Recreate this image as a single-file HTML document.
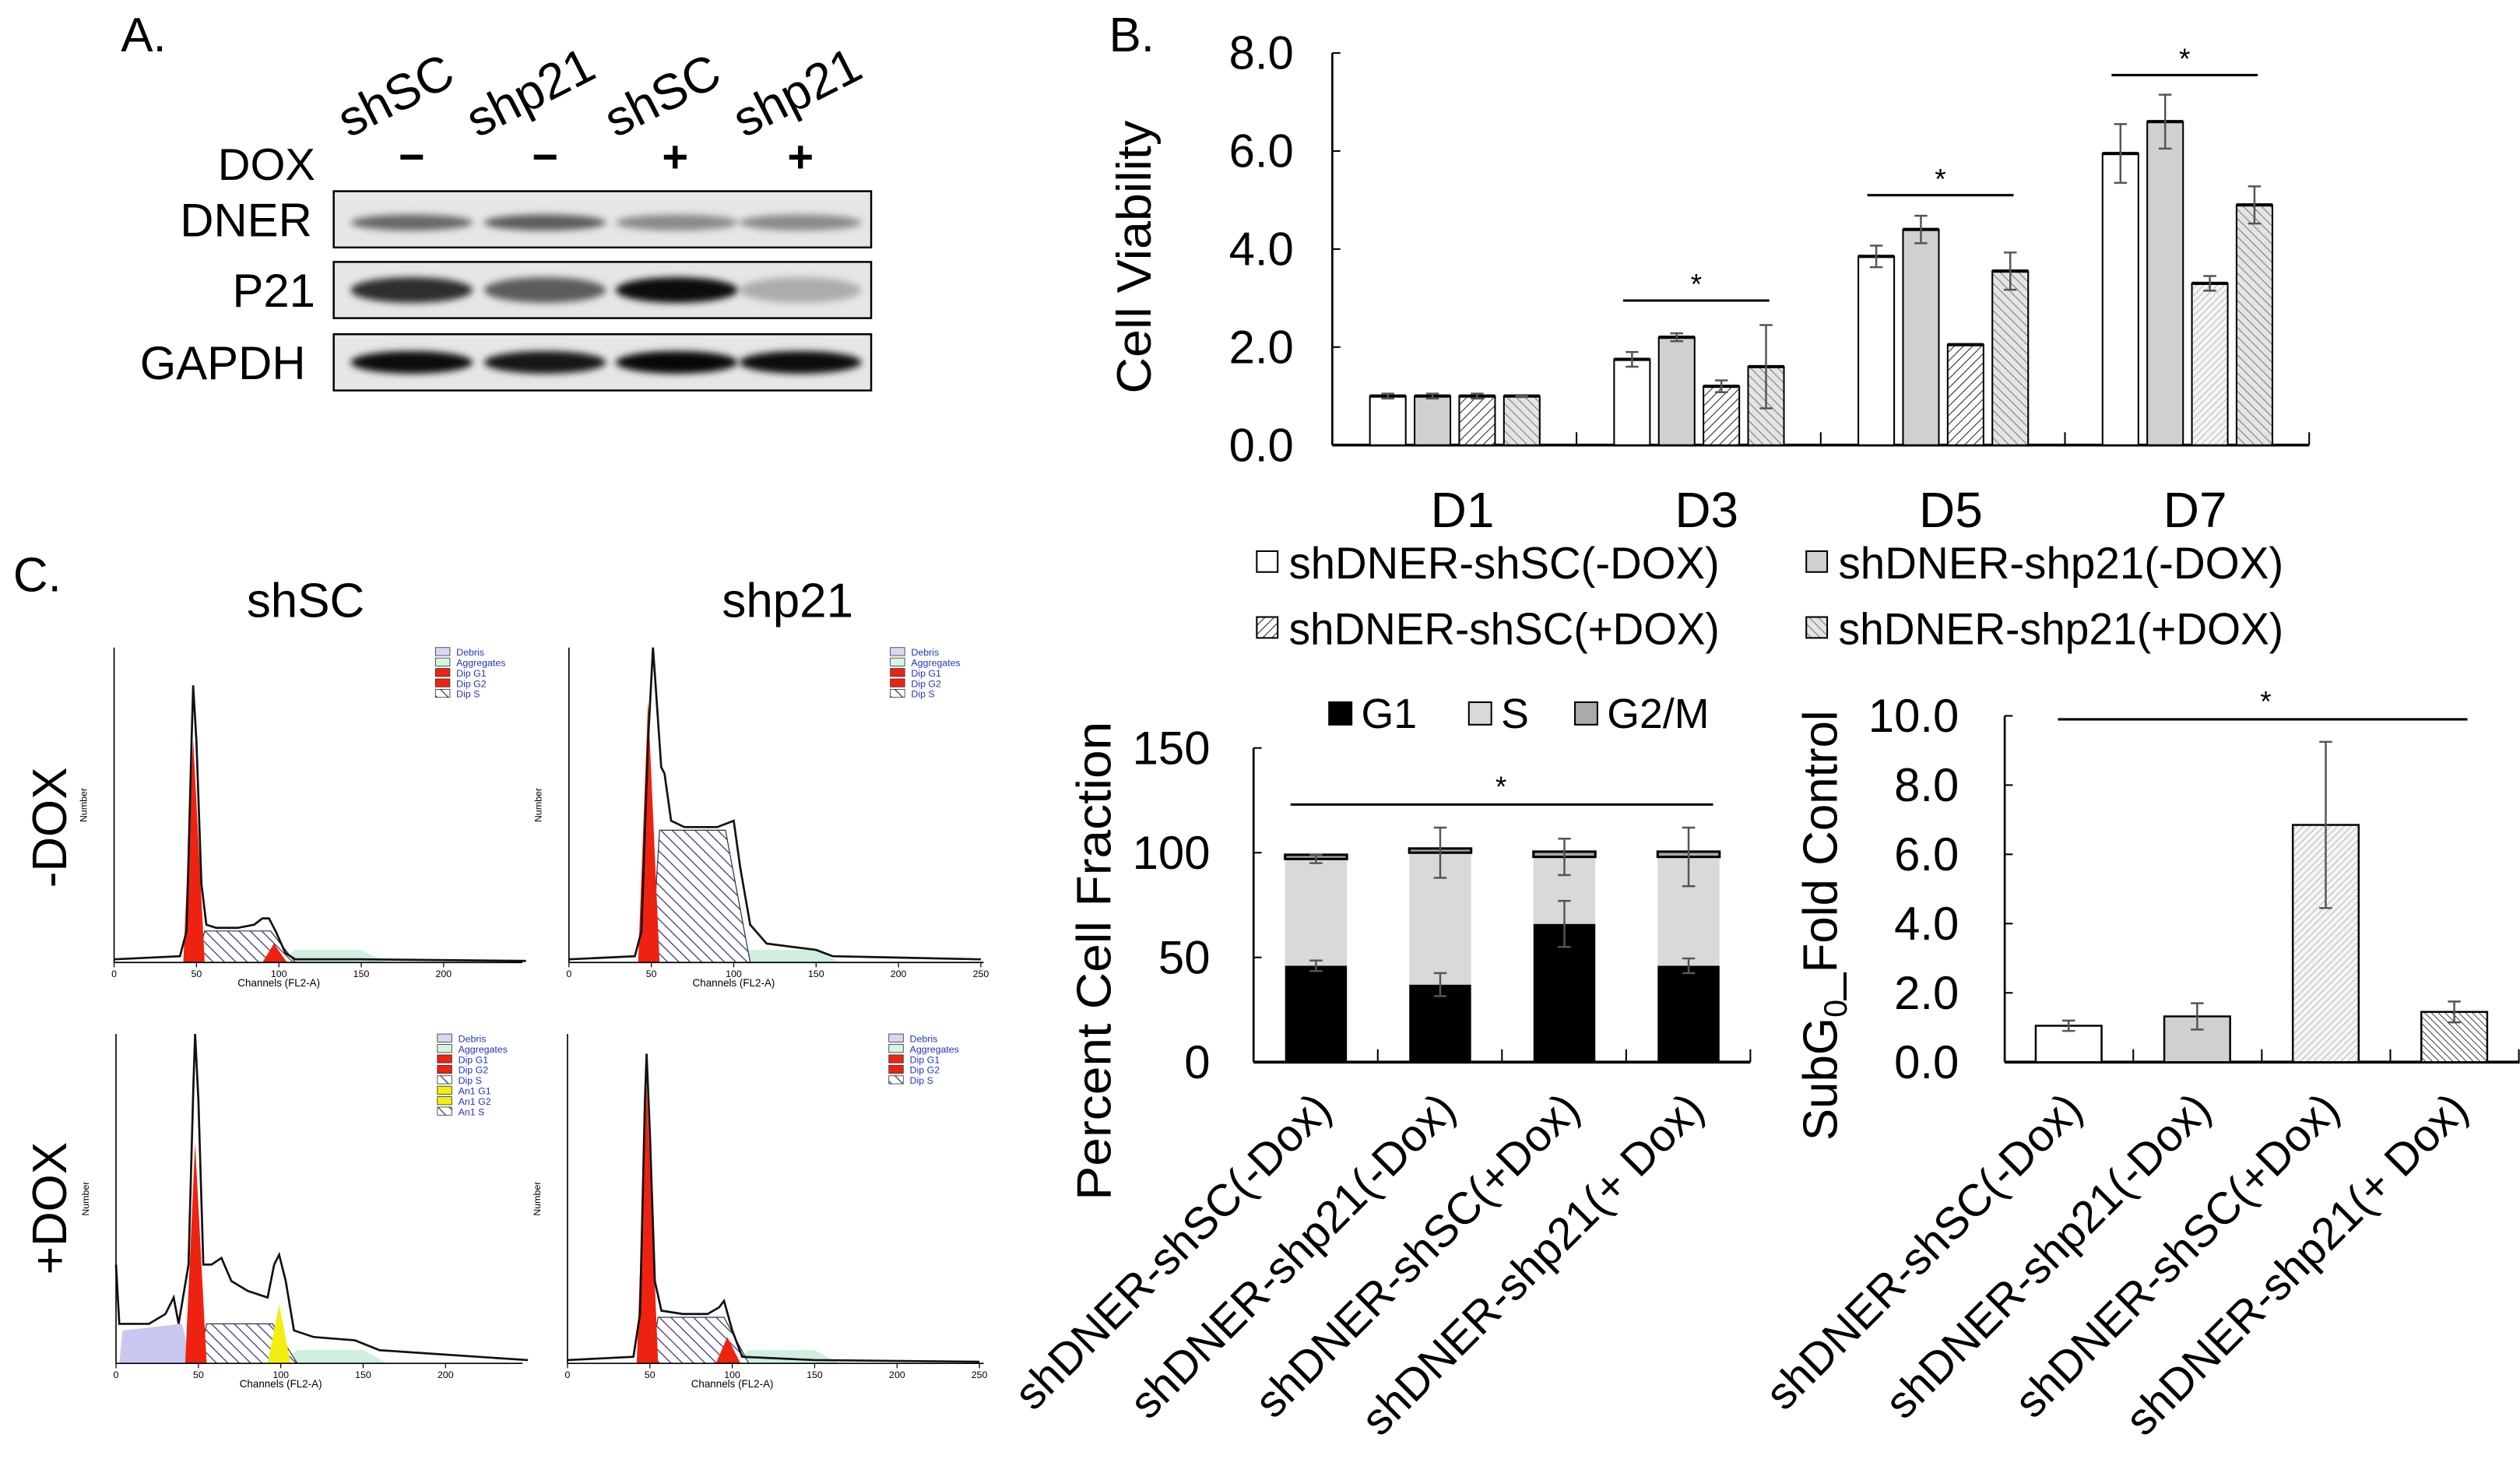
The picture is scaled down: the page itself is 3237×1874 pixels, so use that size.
<!DOCTYPE html>
<html><head><meta charset="utf-8"><style>
html,body{margin:0;padding:0;background:#fff;}
svg{display:block;font-family:"Liberation Sans",Arial,sans-serif;}
</style></head><body>
<svg id="fig" width="3237" height="1874" viewBox="0 0 1568 908" xmlns="http://www.w3.org/2000/svg">
<defs>
<pattern id="hatchA" width="4" height="4" patternUnits="userSpaceOnUse" patternTransform="rotate(45)"><rect width="4" height="4" fill="#fff"/><line x1="0" y1="0" x2="0" y2="4" stroke="#222" stroke-width="1"/></pattern>
<pattern id="hatchB" width="4" height="4" patternUnits="userSpaceOnUse" patternTransform="rotate(-45)"><rect width="4" height="4" fill="#e4e4e4"/><line x1="0" y1="0" x2="0" y2="4" stroke="#888" stroke-width="1.2"/></pattern>
<pattern id="hatchC" width="3" height="3" patternUnits="userSpaceOnUse" patternTransform="rotate(45)"><rect width="3" height="3" fill="#f4f4f4"/><line x1="0" y1="0" x2="0" y2="3" stroke="#aaa" stroke-width="0.8"/></pattern>
<pattern id="hatchD" width="3" height="3" patternUnits="userSpaceOnUse" patternTransform="rotate(-45)"><rect width="3" height="3" fill="#fff"/><line x1="0" y1="0" x2="0" y2="3" stroke="#333" stroke-width="0.9"/></pattern>
<pattern id="hatchS" width="5" height="5" patternUnits="userSpaceOnUse" patternTransform="rotate(-45)"><rect width="5" height="5" fill="#fff"/><line x1="0" y1="0" x2="0" y2="5" stroke="#33337a" stroke-width="1.2"/></pattern>
<filter id="blur" x="-20%" y="-100%" width="140%" height="300%"><feGaussianBlur stdDeviation="2.2"/></filter>
</defs>
<g id="root"></g>
</svg>
<script>
// ---------- DATA ----------
const dayLabels = ["D1","D3","D5","D7"];
const viabSeriesNames = ["shDNER-shSC(-DOX)","shDNER-shp21(-DOX)","shDNER-shSC(+DOX)","shDNER-shp21(+DOX)"];
const viabS1 = [1.0,1.75,3.85,5.95];
const viabS2 = [1.0,2.2,4.4,6.6];
const viabS3 = [1.0,1.2,2.05,3.3];
const viabS4 = [1.0,1.6,3.55,4.9];
const viabE1 = [0.05,0.15,0.22,0.6];
const viabE2 = [0.05,0.08,0.28,0.55];
const viabE3 = [0.05,0.12,0.0,0.15];
const viabE4 = [0.02,0.85,0.38,0.38];
const viabTicks = ["0.0","2.0","4.0","6.0","8.0"];
const viabSig = [2.95,5.1,7.55]; // D3, D5, D7
const cycleCats = ["shDNER-shSC(-Dox)","shDNER-shp21(-Dox)","shDNER-shSC(+Dox)","shDNER-shp21(+ Dox)"];
const cycleG1 = [46,37,66,46];
const cycleS = [51,63,32,52];
const cycleG2 = [2,2,2.5,2.5];
const cycleG1Err = [2.5,5.5,11,3.5];
const cycleSErr = [2,12,8.7,14];
const cycleTicks = ["0","50","100","150"];
const cycleSigLevel = 123;
const subCats = ["shDNER-shSC(-Dox)","shDNER-shp21(-Dox)","shDNER-shSC(+Dox)","shDNER-shp21(+ Dox)"];
const subVals = [1.05,1.32,6.85,1.45];
const subErr = [0.15,0.38,2.4,0.3];
const subTicks = ["0.0","2.0","4.0","6.0","8.0","10.0"];
const subSigLevel = 9.9;
// histogram outlines [channel, fraction of height]
const histTL = [[0,0.01],[40,0.02],[44,0.1],[47,0.7],[48,0.88],[50,0.7],[53,0.25],[56,0.12],[62,0.11],[75,0.11],[85,0.12],[90,0.14],[94,0.14],[98,0.1],[104,0.03],[110,0.01],[150,0.01],[250,0.005]];
const histTR = [[0,0.01],[40,0.02],[44,0.1],[48,0.7],[51,1.0],[53,0.85],[56,0.62],[58,0.6],[62,0.45],[70,0.43],[90,0.43],[100,0.45],[104,0.3],[110,0.12],[120,0.06],[150,0.04],[160,0.02],[250,0.01]];
const histBL = [[0,0.3],[2,0.12],[20,0.12],[30,0.15],[35,0.2],[38,0.12],[44,0.3],[47,0.85],[48,1.0],[50,0.8],[53,0.3],[58,0.3],[64,0.32],[70,0.25],[80,0.22],[92,0.2],[96,0.3],[99,0.33],[103,0.25],[108,0.1],[120,0.08],[145,0.07],[160,0.04],[250,0.01]];
const histBR = [[0,0.01],[40,0.02],[44,0.15],[47,0.8],[48,0.94],[50,0.7],[53,0.25],[57,0.16],[70,0.15],[85,0.15],[92,0.17],[95,0.19],[100,0.1],[106,0.02],[150,0.01],[250,0.005]];
const histG1 = [0.71,0.83,0.67,0.85];
const histSLevel = [0.1,0.42,0.12,0.14];
const histG2 = [0.06,0,0,0.08];

const NS="http://www.w3.org/2000/svg";
const root=document.getElementById('root');
function mk(tag,parent){const e=document.createElementNS(NS,tag);(parent||root).appendChild(e);return e;}
function set(e,o){for(const k in o)e.setAttribute(k,o[k]);return e;}
function txt(s,x,y,size,anchor,parent){const t=mk('text',parent);set(t,{x:x,y:y,'font-size':size,'text-anchor':anchor||'start',fill:'#000'});t.textContent=s;return t;}

// ---------- PANEL A ----------
let t=txt("A.",75,32,30);


const laneLabels=["shSC","shp21","shSC","shp21"];
const laneX=[217,297,383,463];
laneLabels.forEach((s,i)=>{const e=txt(s,laneX[i],86,31);e.setAttribute('transform',`rotate(-27 ${laneX[i]} 86)`);

});
t=txt("DOX",196,112,28,'end');


const doxSigns=["−","−","+","+"];const doxX=[256,339,420,498];
doxSigns.forEach((s,i)=>{const e=txt(s,doxX[i],107,28,'middle');e.setAttribute('font-weight','bold');

});
const blots=[{n:"DNER",y:119,lx:194,str:[0.55,0.6,0.4,0.4],h:5},{n:"P21",y:163,lx:196,str:[0.8,0.6,0.95,0.25],h:8},{n:"GAPDH",y:208,lx:190,str:[0.95,0.9,0.97,0.95],h:7}];
const laneC=[256,339,421,498];
blots.forEach(b=>{
  const g=mk('g');
  set(mk('rect',g),{x:207.5,y:b.y,width:334.5,height:35,fill:'#e6e6e6'});
  b.str.forEach((s,i)=>{const e=mk('ellipse',g);set(e,{cx:laneC[i],cy:b.y+17.5+(b.n==="DNER"?2:0),rx:38,ry:b.h,fill:`rgba(0,0,0,${s})`,filter:'url(#blur)'});
  
  });
  set(mk('rect',g),{x:207.5,y:b.y,width:334.5,height:35,fill:'none',stroke:'#000','stroke-width':1.2});
  const l=txt(b.n,b.lx,b.y+28,29,'end');
  
  
});

// ---------- PANEL B ----------
const bX0=829,bGW=152,bY0=277,bK=30.5;
const yB=v=>bY0-v*bK;
const xB=(g,s)=>bX0+g*bGW+23.4+s*27.8;
t=txt("B.",690,32,30);


set(mk('line'),{x1:bX0,y1:yB(8),x2:bX0,y2:bY0,stroke:'#000','stroke-width':1.3});
set(mk('line'),{x1:bX0,y1:bY0,x2:bX0+4*bGW,y2:bY0,stroke:'#000','stroke-width':1.8});
viabTicks.forEach((s,i)=>{const v=parseFloat(s);set(mk('line'),{x1:bX0,y1:yB(v),x2:bX0+5,y2:yB(v),stroke:'#000'});
const e=txt(s,805,yB(v)+10,29,'end');

});
for(let g=1;g<=4;g++)set(mk('line'),{x1:bX0+g*bGW,y1:bY0,x2:bX0+g*bGW,y2:bY0-8,stroke:'#000'});
t=txt("Cell Viability",0,0,30,'middle');
set(t,{transform:'translate(716,160) rotate(-90)',textLength:170,lengthAdjust:'spacingAndGlyphs'});


const vS=[viabS1,viabS2,viabS3,viabS4],vE=[viabE1,viabE2,viabE3,viabE4];
const vFill=['#fff','#d0d0d0','url(#hatchA)','url(#hatchB)'];
dayLabels.forEach((d,g)=>{
  for(let s=0;s<4;s++){
    const v=vS[s][g],x=xB(g,s);
    const r=mk('rect');set(r,{x:x,y:yB(v),width:22.3,height:v*bK,fill:(g===3&&s===2)?'url(#hatchC)':vFill[s],stroke:'#000','stroke-width':1});
    
    
    set(mk('line'),{x1:x,y1:yB(v),x2:x+22.3,y2:yB(v),stroke:'#000','stroke-width':2});
    const e=vE[s][g];if(e>0){const cx=x+11.15;
      set(mk('path'),{d:`M${cx-4},${yB(v+e)}H${cx+4}M${cx},${yB(v+e)}V${yB(v-e)}M${cx-4},${yB(v-e)}H${cx+4}`,stroke:'#555','stroke-width':1.2,fill:'none'});}
  }
  const l=txt(d,bX0+g*bGW+81,328,31,'middle');
  
  
});
viabSig.forEach((lv,i)=>{const g=i+1;const x1=bX0+g*bGW+29,x2=x1+91;
  const ln=mk('line');set(ln,{x1:x1,y1:yB(lv),x2:x2,y2:yB(lv),stroke:'#000','stroke-width':1.5});
  
  
  const s=txt("*",(x1+x2)/2,yB(lv)-4,18,'middle');
  
  });
const legPos=[[782,350],[1124,350],[782,391],[1124,391]];
const legFill=['#fff','#d0d0d0','url(#hatchA)','url(#hatchB)'];
const legOrder=[0,1,2,3];
legOrder.forEach((k,i)=>{const [x,y]=legPos[i];
  const g=mk('g');
  set(mk('rect',g),{x:x,y:y-7,width:13,height:13,fill:legFill[k],stroke:'#000','stroke-width':1});
  const tt=txt(viabSeriesNames[k],x+20,y+10,28,'start',g);set(tt,{textLength:(k%2?277:268),lengthAdjust:'spacingAndGlyphs'});});

// ---------- PANEL C: cell cycle stacked ----------
const pX0=780,pY0=661,pK=195.5/150,pW=77.3;
const yP=v=>pY0-v*pK;const xP=i=>pX0+i*pW+19.6;
set(mk('line'),{x1:pX0,y1:yP(150),x2:pX0,y2:pY0,stroke:'#000','stroke-width':1.3});
set(mk('line'),{x1:pX0,y1:pY0,x2:pX0+4*pW,y2:pY0,stroke:'#000','stroke-width':1.8});
cycleTicks.forEach(s=>{const v=+s;set(mk('line'),{x1:pX0,y1:yP(v),x2:pX0+5,y2:yP(v),stroke:'#000'});
const e=txt(s,753,yP(v)+10,29,'end');

});
for(let i=1;i<=4;i++)set(mk('line'),{x1:pX0+i*pW,y1:pY0,x2:pX0+i*pW,y2:pY0-8,stroke:'#000'});
t=txt("Percent Cell Fraction",0,0,30,'middle');
set(t,{transform:'translate(691,598) rotate(-90)',textLength:298,lengthAdjust:'spacingAndGlyphs'});


cycleCats.forEach((c,i)=>{const x=xP(i),w=38.5;
  const a=cycleG1[i],b=a+cycleS[i],d=b+cycleG2[i];
  let r=mk('rect');set(r,{x:x,y:yP(a),width:w,height:a*pK,fill:'#000'});
  
  
  r=mk('rect');set(r,{x:x,y:yP(b),width:w,height:(b-a)*pK,fill:'#d9d9d9'});
  
  
  r=mk('rect');set(r,{x:x,y:yP(d),width:w,height:(d-b)*pK,fill:'#aaa',stroke:'#000','stroke-width':1.5});
  
  
  const cx=x+w/2;
  [[a,cycleG1Err[i]],[b,cycleSErr[i]]].forEach(([v,e])=>set(mk('path'),{d:`M${cx-4},${yP(v+e)}H${cx+4}M${cx},${yP(v+e)}V${yP(v-e)}M${cx-4},${yP(v-e)}H${cx+4}`,stroke:'#555','stroke-width':1.2,fill:'none'}));
  const l=txt(c,0,0,28,'end');set(l,{transform:`translate(${cx+11},692) rotate(-45)`});
  
  
});
t=mk('line');set(t,{x1:803,y1:yP(cycleSigLevel),x2:1066,y2:yP(cycleSigLevel),stroke:'#000','stroke-width':1.5});


t=txt("*",934,yP(cycleSigLevel)-5,18,'middle');


[["G1",827,'#000'],["S",914,'#d9d9d9'],["G2/M",980,'#aaa']].forEach(([n,x,f])=>{
  const g=mk('g');
  set(mk('rect',g),{x:x,y:437,width:14,height:14,fill:f,stroke:'#000','stroke-width':1});
  txt(n,x+20,453,26,'start',g);});

// ---------- PANEL C: SubG0 ----------
const sX0=1247.5,sY0=661,sK=21.55,sW=80;
const yS=v=>sY0-v*sK;const xS=i=>sX0+i*sW+19.3;
set(mk('line'),{x1:sX0,y1:yS(10),x2:sX0,y2:sY0,stroke:'#000','stroke-width':1.3});
set(mk('line'),{x1:sX0,y1:sY0,x2:1568,y2:sY0,stroke:'#000','stroke-width':1.8});
subTicks.forEach(s=>{const v=+s;set(mk('line'),{x1:sX0,y1:yS(v),x2:sX0+5,y2:yS(v),stroke:'#000'});
const e=txt(s,1219,yS(v)+10,29,'end');

});
for(let i=1;i<=4;i++)set(mk('line'),{x1:sX0+i*sW,y1:sY0,x2:sX0+i*sW,y2:sY0-8,stroke:'#000'});
t=mk('text');set(t,{'font-size':30,'text-anchor':'middle',transform:'translate(1143,576) rotate(-90)'});
t.innerHTML='SubG<tspan font-size="20" dy="6">0</tspan><tspan dy="-6">_Fold Control</tspan>';


const sFill=['#fff','#d0d0d0','url(#hatchC)','url(#hatchD)'];
subCats.forEach((c,i)=>{const x=xS(i),w=41,v=subVals[i],e=subErr[i],cx=x+w/2;
  const r=mk('rect');set(r,{x:x,y:yS(v),width:w,height:v*sK,fill:sFill[i],stroke:'#000','stroke-width':1.2});
  
  
  set(mk('path'),{d:`M${cx-4},${yS(v+e)}H${cx+4}M${cx},${yS(v+e)}V${yS(v-e)}M${cx-4},${yS(v-e)}H${cx+4}`,stroke:'#555','stroke-width':1.2,fill:'none'});
  const l=txt(c,0,0,28,'end');set(l,{transform:`translate(${cx+10},692) rotate(-45)`});
  
  
});
t=mk('line');set(t,{x1:1280.6,y1:yS(subSigLevel),x2:1535.5,y2:yS(subSigLevel),stroke:'#000','stroke-width':1.5});


t=txt("*",1410,yS(subSigLevel)-5,18,'middle');



// ---------- PANEL C: flow histograms ----------
t=txt("C.",8,368,30);


t=txt("shSC",190,384,30,'middle');


t=txt("shp21",490,384,30,'middle');


t=txt("-DOX",0,0,30,'middle');t.setAttribute('transform','translate(41,515) rotate(-90)');


t=txt("+DOX",0,0,30,'middle');t.setAttribute('transform','translate(41,752) rotate(-90)');


const panels=[{d:histTL,ax:70.8,base:599,h:196,end:325,leg:5},{d:histTR,ax:353.9,base:599,h:196,end:612,leg:5},{d:histBL,ax:72,base:848.5,h:205,end:325,leg:8},{d:histBR,ax:353,base:848.5,h:205,end:612,leg:5}];
const legNames=["Debris","Aggregates","Dip G1","Dip G2","Dip S","An1 G1","An1 G2","An1 S"];
const legCols=['#d8d8f4','#d8f4e0','#ee2211','#ee2211','url(#hatchS)','#f4ee10','#f4ee10','url(#hatchS)'];
panels.forEach((p,k)=>{
  const g=mk('g');
  const hx=c=>p.ax+c*1.0255,hy=f=>p.base-f*p.h;
  set(mk('path',g),{d:`M${hx(100)},${hy(0)}L${hx(110)},${hy(0.04)}L${hx(150)},${hy(0.04)}L${hx(165)},${hy(0)}Z`,fill:'#cfeede'});
  if(k===2)set(mk('path',g),{d:`M${hx(2)},${hy(0)}L${hx(4)},${hy(0.1)}L${hx(40)},${hy(0.12)}L${hx(46)},${hy(0)}Z`,fill:'#c8c8f0'});
  const sl=histSLevel[k];
  set(mk('path',g),{d:`M${hx(50)},${hy(0)}L${hx(55)},${hy(sl)}L${hx(95)},${hy(sl)}L${hx(110)},${hy(0)}Z`,fill:'url(#hatchS)',stroke:'#333','stroke-width':0.6});
  set(mk('path',g),{d:`M${hx(42)},${hy(0)}L${hx(48)},${hy(histG1[k])}L${hx(55)},${hy(0)}Z`,fill:'#ee2211'});
  if(histG2[k]>0)set(mk('path',g),{d:`M${hx(90)},${hy(0)}L${hx(97)},${hy(histG2[k])}L${hx(105)},${hy(0)}Z`,fill:'#ee2211'});
  if(k===2)set(mk('path',g),{d:`M${hx(92)},${hy(0)}L${hx(99)},${hy(0.18)}L${hx(106)},${hy(0)}Z`,fill:'#f4ee10'});
  const pts=p.d.map(([c,f])=>`${hx(c)},${hy(f)}`).join(' ');
  const pl=mk('polyline',g);set(pl,{points:pts,fill:'none',stroke:'#111','stroke-width':1.3});
  
  
  set(mk('line',g),{x1:p.ax,y1:p.base-p.h,x2:p.ax,y2:p.base,stroke:'#000','stroke-width':0.8});
  set(mk('line',g),{x1:p.ax,y1:p.base,x2:p.end,y2:p.base,stroke:'#000','stroke-width':0.8});
  [0,50,100,150,200,250].forEach(c=>{if(hx(c)>p.end+2)return;set(mk('line',g),{x1:hx(c),y1:p.base,x2:hx(c),y2:p.base+3,stroke:'#000','stroke-width':0.6});
    txt(String(c),hx(c),p.base+9,6,'middle',g);});
  txt("Channels (FL2-A)",hx(100),p.base+15,6.5,'middle',g);
  const yl=txt("Number",0,0,6,'middle',g);yl.setAttribute('transform',`translate(${p.ax-17},${p.base-p.h/2}) rotate(-90)`);
  const lx=p.ax+200,ly=p.base-p.h;
  for(let i=0;i<p.leg;i++){set(mk('rect',g),{x:lx,y:ly+i*6.5,width:9,height:5,fill:legCols[i],stroke:'#333','stroke-width':0.4});
    const lt=txt(legNames[i],lx+13,ly+i*6.5+5,6,'start',g);lt.setAttribute('fill','#2233bb');}
});
</script>
</body></html>
